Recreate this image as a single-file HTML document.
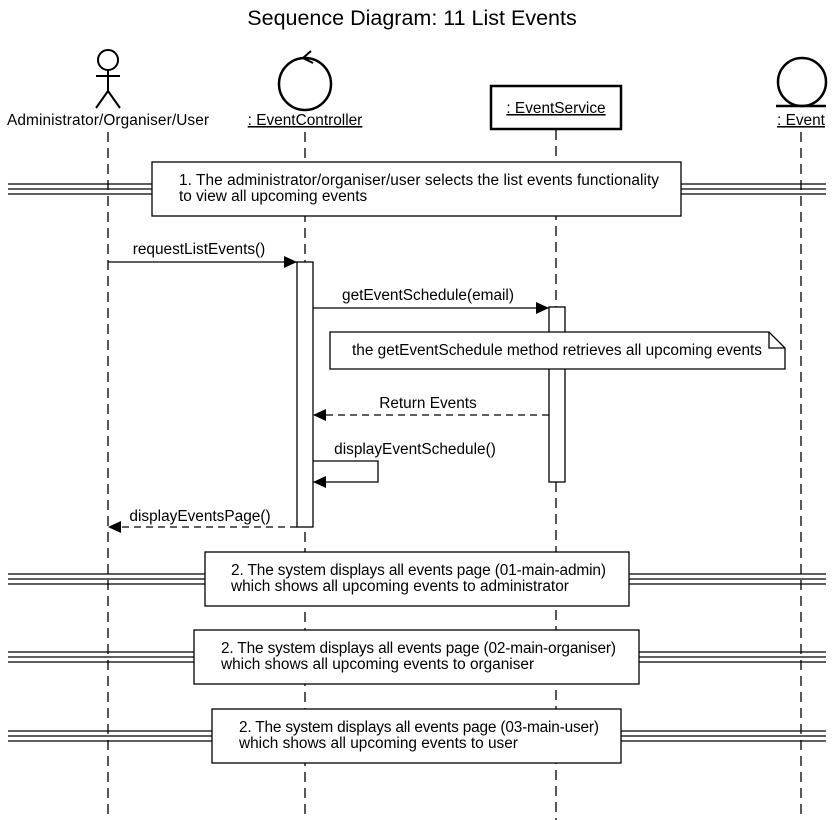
<!DOCTYPE html>
<html><head><style>body{margin:0;background:#fff}svg{display:block}text{font-family:"Liberation Sans","DejaVu Sans",sans-serif;font-size:15.4px;fill:#000}</style></head>
<body>
<svg width="834" height="820" viewBox="0 0 834 820" xmlns="http://www.w3.org/2000/svg">
<defs><marker id="a" markerWidth="14" markerHeight="12" refX="13" refY="6" orient="auto" markerUnits="userSpaceOnUse"><path d="M0,0 L13,6 L0,12 Z" fill="#000"/></marker></defs>
<text x="412" y="25" text-anchor="middle" style="font-size:21.5px">Sequence Diagram: 11 List Events</text>
<g stroke="#000" stroke-width="1.5" fill="none">
<g stroke-dasharray="10,6" stroke-width="1.3">
<line x1="108" y1="132" x2="108" y2="820"/>
<line x1="305" y1="132" x2="305" y2="820"/>
<line x1="556" y1="130" x2="556" y2="820"/>
<line x1="801" y1="132" x2="801" y2="820"/>
</g>
<circle cx="108" cy="60" r="10" stroke-width="2"/>
<line x1="108" y1="70" x2="108" y2="91" stroke-width="2"/>
<line x1="96" y1="76" x2="120" y2="76" stroke-width="2"/>
<line x1="108" y1="91" x2="96" y2="108" stroke-width="2"/>
<line x1="108" y1="91" x2="120" y2="108" stroke-width="2"/>
<circle cx="305" cy="84" r="26" stroke-width="2.5"/>
<path d="M311,51 L303,58 L313,63" stroke-width="2"/>
<rect x="491" y="86" width="130" height="43" stroke-width="2.5"/>
<circle cx="802" cy="82" r="24" stroke-width="2.5"/>
<line x1="776" y1="106" x2="826" y2="106" stroke-width="2.5"/>
</g>
<text x="108" y="125" text-anchor="middle" textLength="202">Administrator/Organiser/User</text>
<text x="305" y="125" text-anchor="middle" text-decoration="underline">: EventController</text>
<text x="556" y="113" text-anchor="middle" text-decoration="underline">: EventService</text>
<text x="801" y="125" text-anchor="middle" text-decoration="underline">: Event</text>
<g stroke="#000" stroke-width="1.3" fill="#fff">
<g fill="none"><line x1="8" y1="184" x2="826" y2="184"/><line x1="8" y1="189" x2="826" y2="189"/><line x1="8" y1="194" x2="826" y2="194"/>
<line x1="8" y1="574" x2="826" y2="574"/><line x1="8" y1="579" x2="826" y2="579"/><line x1="8" y1="584" x2="826" y2="584"/>
<line x1="8" y1="652" x2="826" y2="652"/><line x1="8" y1="657" x2="826" y2="657"/><line x1="8" y1="662" x2="826" y2="662"/>
<line x1="8" y1="731" x2="826" y2="731"/><line x1="8" y1="736" x2="826" y2="736"/><line x1="8" y1="741" x2="826" y2="741"/></g>
<rect x="152" y="162" width="529" height="54"/>
<rect x="205" y="552" width="424" height="54"/>
<rect x="194" y="630" width="445" height="54"/>
<rect x="212" y="709" width="409" height="54"/>
<rect x="297" y="262" width="16" height="265"/>
<rect x="549" y="307" width="16" height="175"/>
<path d="M330,332 L769,332 L785,348 L785,369 L330,369 Z"/>
<path d="M769,332 L769,348 L785,348" fill="none"/>
</g>
<text x="179" y="185" textLength="480">1. The administrator/organiser/user selects the list events functionality</text>
<text x="179" y="201">to view all upcoming events</text>
<text x="231" y="575" textLength="375">2. The system displays all events page (01-main-admin)</text>
<text x="231" y="591">which shows all upcoming events to administrator</text>
<text x="221" y="653" textLength="395">2. The system displays all events page (02-main-organiser)</text>
<text x="221" y="669">which shows all upcoming events to organiser</text>
<text x="239" y="732" textLength="360">2. The system displays all events page (03-main-user)</text>
<text x="239" y="748">which shows all upcoming events to user</text>
<text x="352" y="355" textLength="410">the getEventSchedule method retrieves all upcoming events</text>
<g stroke="#000" stroke-width="1.3" fill="none">
<line x1="108" y1="262" x2="297" y2="262" marker-end="url(#a)"/>
<line x1="313" y1="308" x2="549" y2="308" marker-end="url(#a)"/>
<line x1="549" y1="415" x2="313" y2="415" stroke-dasharray="7,5" marker-end="url(#a)"/>
<polyline points="313,461 378,461 378,482 313,482" marker-end="url(#a)"/>
<line x1="297" y1="527" x2="108" y2="527" stroke-dasharray="7,5" marker-end="url(#a)"/>
</g>
<text x="199" y="254" text-anchor="middle">requestListEvents()</text>
<text x="428" y="300" text-anchor="middle">getEventSchedule(email)</text>
<text x="428" y="408" text-anchor="middle">Return Events</text>
<text x="415" y="454" text-anchor="middle">displayEventSchedule()</text>
<text x="200" y="521" text-anchor="middle">displayEventsPage()</text>
</svg>
</body></html>
